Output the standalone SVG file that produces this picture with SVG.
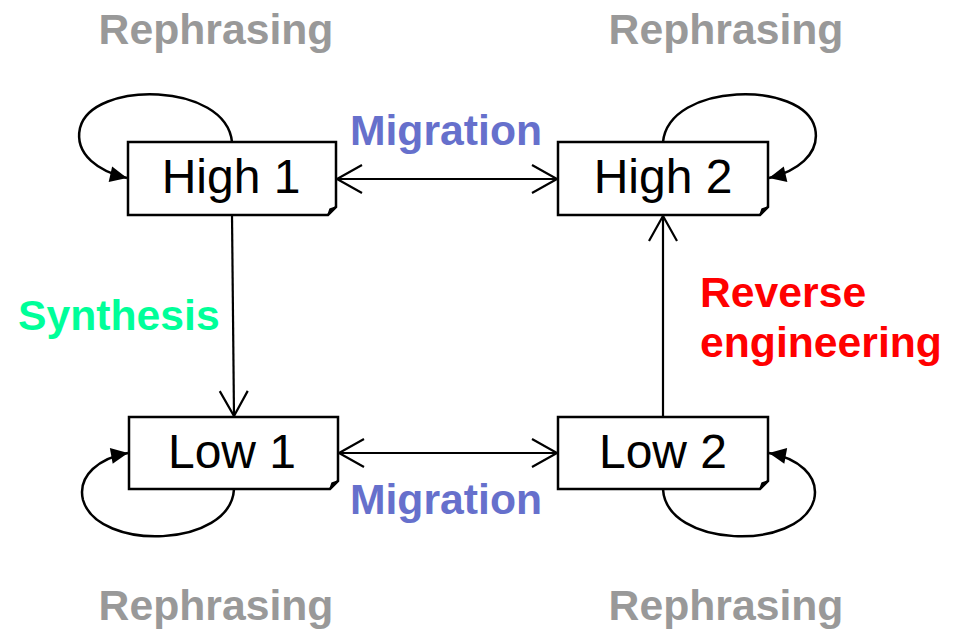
<svg xmlns="http://www.w3.org/2000/svg" width="954" height="629" viewBox="0 0 954 629">
<defs>
<marker id="open" markerUnits="userSpaceOnUse" markerWidth="40" markerHeight="40" viewBox="-30 -20 40 40" refX="0" refY="0" orient="auto-start-reverse">
<path d="M-25,-14 L0,0 L-25,14" fill="none" stroke="#000" stroke-width="2.2"/>
</marker>
<marker id="solid" markerUnits="userSpaceOnUse" markerWidth="30" markerHeight="30" viewBox="-20 -15 30 30" refX="0" refY="0" orient="auto">
<path d="M-17,-8 L0,0 L-17,8 Z" fill="#000"/>
</marker>
</defs>
<style>
.box{fill:#fff;stroke:#000;stroke-width:2.5}
.fold{fill:#000;stroke:#000;stroke-width:1.5}
.bt{font-family:"Liberation Sans",Arial,sans-serif;font-size:48px;fill:#000;text-anchor:middle}
.lbl{font-family:"Liberation Sans",Arial,sans-serif;font-size:42.7px;font-weight:bold}
.reph{fill:#999999;text-anchor:middle}
.mig{fill:#6670CC;text-anchor:middle}
.edge{fill:none;stroke:#000;stroke-width:2.2}
.loop{fill:none;stroke:#000;stroke-width:2.5}
</style>
<g id="connectors">
<path class="edge" d="M232,215 L234,416" marker-end="url(#open)"/>
<path class="edge" d="M663,417 L663,216" marker-end="url(#open)"/>
<path class="edge" d="M337,179 L557,179" marker-start="url(#open)" marker-end="url(#open)"/>
<path class="edge" d="M339,453 L557,453" marker-start="url(#open)" marker-end="url(#open)"/>
<path class="loop" d="M232,142 C226,82 92,80 80,128 C74,155 100,172 127,178" marker-end="url(#solid)"/>
<path class="loop" d="M663,142 C669,82 803,80 815,128 C821,155 795,172 769,178" marker-end="url(#solid)"/>
<path class="loop" d="M234,489 C231,548 98,552 83,500 C77,475 100,458 128,453" marker-end="url(#solid)"/>
<path class="loop" d="M663,489 C666,548 799,552 814,500 C820,475 797,458 769,453" marker-end="url(#solid)"/>
</g>
<g id="high1">
<path class="box" d="M128,142 H336 V207 L328,215 H128 Z"/>
<path class="fold" d="M336,207 L330,209 L328,215 Z"/>
<text class="bt" x="231" y="193">High 1</text>
</g>
<g id="high2">
<path class="box" d="M558,142 H768 V207 L760,215 H558 Z"/>
<path class="fold" d="M768,207 L762,209 L760,215 Z"/>
<text class="bt" x="663" y="193">High 2</text>
</g>
<g id="low1">
<path class="box" d="M129,417 H338 V481 L330,489 H129 Z"/>
<path class="fold" d="M338,481 L332,483 L330,489 Z"/>
<text class="bt" x="232" y="468">Low 1</text>
</g>
<g id="low2">
<path class="box" d="M558,417 H768 V481 L760,489 H558 Z"/>
<path class="fold" d="M768,481 L762,483 L760,489 Z"/>
<text class="bt" x="663" y="468">Low 2</text>
</g>
<g id="labels">
<text class="lbl reph" x="216" y="44">Rephrasing</text>
<text class="lbl reph" x="726" y="44">Rephrasing</text>
<text class="lbl reph" x="216" y="620">Rephrasing</text>
<text class="lbl reph" x="726" y="620">Rephrasing</text>
<text class="lbl mig" x="446" y="145">Migration</text>
<text class="lbl mig" x="446" y="514">Migration</text>
<text class="lbl" x="18" y="330" fill="#00FF99">Synthesis</text>
<text class="lbl" x="700" y="307" fill="#FF0000">Reverse</text>
<text class="lbl" x="700" y="357" fill="#FF0000">engineering</text>
</g>
</svg>
